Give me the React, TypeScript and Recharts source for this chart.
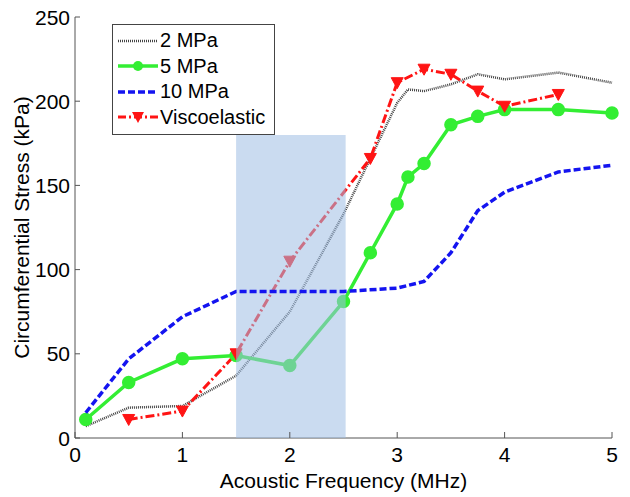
import { LineChart, Line, XAxis, YAxis, ReferenceArea } from 'recharts';

// 2 MPa (black dotted, no markers)
const mpa2X = [0.1, 0.5, 1, 1.5, 2, 2.5, 2.75, 3, 3.1, 3.25, 3.5, 3.75, 4, 4.5, 5];
const mpa2Y = [7, 18, 19, 37, 75, 133, 166, 199, 207, 206, 210, 216, 213, 217, 211];

// 5 MPa (green, circles)
const mpa5X = [0.1, 0.5, 1, 1.5, 2, 2.5, 2.75, 3, 3.1, 3.25, 3.5, 3.75, 4, 4.5, 5];
const mpa5Y = [11, 33, 47, 49, 43, 81, 110, 139, 155, 163, 186, 191, 195, 195, 193];

// 10 MPa (blue dashed, no markers)
const mpa10X = [0.1, 0.5, 1, 1.5, 2, 2.5, 3, 3.25, 3.5, 3.75, 4, 4.5, 5];
const mpa10Y = [15, 47, 72, 87, 87, 87, 89, 93, 110, 135, 146, 158, 162];

// Viscoelastic (red dash-dot, down triangles)
const viscoX = [0.5, 1, 1.5, 2, 2.75, 3, 3.25, 3.5, 3.75, 4, 4.5];
const viscoY = [11, 16, 50, 105, 166, 211, 219, 216, 206, 197, 204];

const xTicks = [0, 1, 2, 3, 4, 5];
const yTicks = [0, 50, 100, 150, 200, 250];

// shaded band
const bandX = [1.5, 2.52];
const bandY = [0, 180];

const toRows = (xs: number[], ys: number[]) => xs.map((x, i) => ({ x, y: ys[i] }));

const FONT = '"Liberation Sans", Arial, sans-serif';
const AXIS = '#555';

const XTick = ({ x, y, payload }: any) => (
  <g>
    <line x1={x} x2={x} y1={y - 8} y2={y - 14} stroke={AXIS} />
    <text x={x} y={y} dy="0.75em" textAnchor="middle" fontSize={21} fontFamily={FONT} fill="#000">
      {payload.value}
    </text>
  </g>
);

const YTick = ({ x, y, payload }: any) => (
  <g>
    <line x1={x + 5} x2={x + 10} y1={y} y2={y} stroke={AXIS} />
    <text x={x} y={y} dy="0.36em" textAnchor="end" fontSize={21} fontFamily={FONT} fill="#000">
      {payload.value}
    </text>
  </g>
);

const TriDot = ({ cx, cy }: any) => {
  if (cx == null || cy == null) return null;
  return <path d={`M${cx - 6},${cy - 5} L${cx + 6},${cy - 5} L${cx},${cy + 6} Z`} fill="#ff1414" stroke="#ff1414" />;
};

const legendItems = [
  { name: '2 MPa', color: '#444', dash: '1 1', width: 2.5, marker: null },
  { name: '5 MPa', color: '#33ee33', dash: '', width: 3.5, marker: 'circle' },
  { name: '10 MPa', color: '#1414f0', dash: '7 3', width: 3.5, marker: null },
  { name: 'Viscoelastic', color: '#ff1414', dash: '8 3 2 3', width: 3, marker: 'tri' },
];

const LegendBox = () => (
  <div
    style={{
      position: 'absolute',
      left: 112,
      top: 24,
      border: '1px solid #444',
      background: '#fff',
      width: 163,
      padding: '3px 0 4px 0',
      fontFamily: FONT,
      fontSize: 20,
      lineHeight: '25.5px',
      boxSizing: 'border-box',
    }}
  >
    {legendItems.map((it) => (
      <div key={it.name} style={{ display: 'flex', alignItems: 'center', height: 25.5 }}>
        <svg width={44} height={20} style={{ marginLeft: 3 }}>
          <line x1={2} x2={42} y1={10} y2={10} stroke={it.color} strokeWidth={it.width} strokeDasharray={it.dash} />
          {it.marker === 'circle' && <circle cx={22} cy={10} r={5} fill={it.color} />}
          {it.marker === 'tri' && <path d="M16,5 L28,5 L22,16 Z" fill={it.color} />}
        </svg>
        <span style={{ color: '#000' }}>{it.name}</span>
      </div>
    ))}
  </div>
);

const YTitle = ({ viewBox }: any) => {
  const cx = viewBox.x + 21;
  const cy = viewBox.y + viewBox.height / 2;
  return (
    <text
      x={cx}
      y={cy}
      transform={`rotate(-90, ${cx}, ${cy})`}
      textAnchor="middle"
      dominantBaseline="central"
      fontSize={21}
      fontFamily={FONT}
      fill="#000"
    >
      Circumferential Stress (kPa)
    </text>
  );
};

export default function App() {
  return (
    <div style={{ position: 'absolute', left: 0, top: 0, width: 630, height: 497, background: '#fff' }}>
      <LineChart width={630} height={497} margin={{ top: 17, right: 18, left: 0, bottom: 0 }}>
        <XAxis
          type="number"
          dataKey="x"
          domain={[0, 5]}
          ticks={xTicks}
          tick={<XTick />}
          tickLine={false}
          tickSize={0}
          tickMargin={8}
          height={59}
          axisLine={{ stroke: AXIS }}
          allowDuplicatedCategory={false}
          label={{ value: 'Acoustic Frequency (MHz)', position: 'insideBottom', offset: 9, fontSize: 21, fontFamily: FONT, fill: '#000' }}
        />
        <YAxis
          type="number"
          domain={[0, 250]}
          ticks={yTicks}
          tick={<YTick />}
          tickLine={false}
          tickSize={0}
          tickMargin={5}
          width={75}
          axisLine={{ stroke: AXIS }}
          label={{ content: <YTitle /> }}
        />
        <Line
          data={toRows(mpa2X, mpa2Y)}
          dataKey="y"
          name="2 MPa"
          type="linear"
          stroke="#444"
          strokeWidth={2.5}
          strokeDasharray="1 1"
          dot={false}
          isAnimationActive={false}
        />
        <Line
          data={toRows(mpa5X, mpa5Y)}
          dataKey="y"
          name="5 MPa"
          type="linear"
          stroke="#33ee33"
          strokeWidth={3.5}
          dot={{ r: 5, fill: '#33ee33', stroke: '#33ee33' }}
          isAnimationActive={false}
        />
        <Line
          data={toRows(viscoX, viscoY)}
          dataKey="y"
          name="Viscoelastic"
          type="linear"
          stroke="#ff1414"
          strokeWidth={3}
          strokeDasharray="9 3 2 3"
          dot={<TriDot />}
          isAnimationActive={false}
        />
        <ReferenceArea
          x1={bandX[0]}
          x2={bandX[1]}
          y1={bandY[0]}
          y2={bandY[1]}
          fill="#9fbde3"
          fillOpacity={0.55}
          stroke="none"
          {...({ zIndex: 1450 } as any)}
        />
        <Line
          data={toRows(mpa10X, mpa10Y)}
          dataKey="y"
          name="10 MPa"
          type="linear"
          stroke="#1414f0"
          strokeWidth={3.5}
          strokeDasharray="7 3"
          dot={false}
          isAnimationActive={false}
          {...({ zIndex: 1500 } as any)}
        />
      </LineChart>
      <LegendBox />
    </div>
  );
}
